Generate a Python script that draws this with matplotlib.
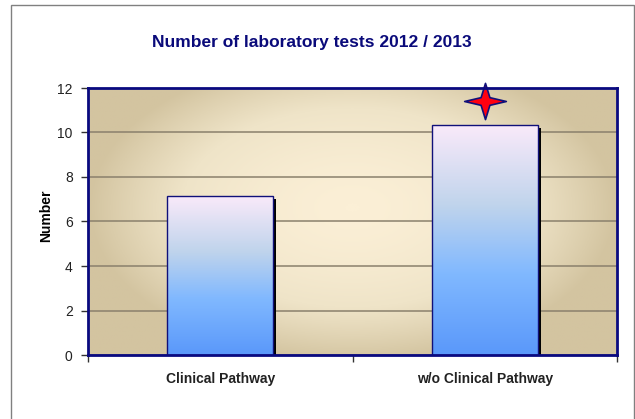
import matplotlib
matplotlib.use("Agg")
import matplotlib.pyplot as plt
import numpy as np
from matplotlib.path import Path
from matplotlib.colors import LinearSegmentedColormap
from matplotlib.patches import Rectangle
from matplotlib.transforms import ScaledTranslation

categories = ["Clinical Pathway", "w/o Clinical Pathway"]
values = [7.15, 10.35]
star_category = 1
star_value = 11.4
yticks = [0, 2, 4, 6, 8, 10, 12]

plt.rcParams['font.family'] = ['Liberation Sans', 'DejaVu Sans']

fig = plt.figure(figsize=(6.35, 4.19), dpi=100)
fig.patch.set_facecolor("white")

# outer frame
fig.add_artist(Rectangle((11 / 635, -0.05), 623 / 635, 1 - 5 / 419 + 0.05,
                         transform=fig.transFigure, fill=False,
                         edgecolor="#808080", linewidth=1))

ax = fig.add_axes([88 / 635, 64 / 419, 529 / 635, 267 / 419])
ax.set_xlim(-0.5, 1.5)
ax.set_ylim(0, 12)

# tan radial background
gx, gy = np.meshgrid(np.linspace(-1, 1, 300), np.linspace(-1, 1, 200))
r = np.clip(np.sqrt((gx / 1.0) ** 2 + ((gy - 0.1) / 1.15) ** 2), 0, 1) ** 1.6
bg_cmap = LinearSegmentedColormap.from_list("bg", ["#fbefd6", "#efe4c8", "#d3c4a0"])
ax.imshow(r, cmap=bg_cmap, extent=(-0.5, 1.5, 0, 12), aspect="auto",
          origin="lower", zorder=0, vmin=0, vmax=1)

ax.yaxis.grid(True, color="#8a806c", linewidth=1.1, zorder=1)
ax.set_axisbelow(True)

bar_cmap = LinearSegmentedColormap.from_list(
    "bar", [(0.0, "#5a98fa"), (0.35, "#80b8ff"), (0.65, "#c0d4ec"), (1.0, "#faeafa")])

bars = ax.bar(range(len(categories)), values, width=0.4, facecolor="none",
              edgecolor="#10107a", linewidth=1.0, zorder=4)
for b in bars:
    x0, w, h = b.get_x(), b.get_width(), b.get_height()
    shadow = Rectangle((x0, 0), w, h, facecolor="black", edgecolor="none", zorder=2,
                       transform=ax.transData + ScaledTranslation(
                           3 / 100, -3 / 100, fig.dpi_scale_trans))
    ax.add_patch(shadow)
    grad = np.linspace(0, 1, 256).reshape(-1, 1)
    im = ax.imshow(grad, cmap=bar_cmap, extent=(x0, x0 + w, 0, h), aspect="auto",
                   origin="lower", zorder=3)
    im.set_clip_path(b)

# four pointed star
t = np.linspace(0, 2 * np.pi, 9)[:-1] + np.pi / 2
rad = np.array([1.0, 0.3] * 4)
verts = np.column_stack([rad * np.cos(t) * 1.15, rad * np.sin(t)])
verts = np.vstack([verts, verts[:1]])
star = Path(verts, [Path.MOVETO] + [Path.LINETO] * 7 + [Path.CLOSEPOLY])
ax.plot([star_category], [star_value], marker=star, markersize=30,
        markerfacecolor="#ff0010", markeredgecolor="#10107a", markeredgewidth=1.2,
        linestyle="none", zorder=6, clip_on=False)

ax.set_yticks(yticks)
ax.set_yticklabels([str(v) for v in yticks], fontsize=10, color="#222222")
ax.set_xticks([-0.5, 0.5, 1.5])
ax.set_xticklabels([])
ax.set_xticks(range(len(categories)), minor=True)
ax.set_xticklabels(categories, minor=True, fontsize=10, fontweight="bold", color="#222222")
ax.tick_params(axis="x", which="minor", length=0, pad=12)
ax.tick_params(axis="both", which="major", length=5, width=1, color="#333333")
ax.tick_params(axis="y", pad=6)

for s in ax.spines.values():
    s.set_color("#0a0a80")
    s.set_linewidth(2)
    s.set_zorder(7)

ax.set_ylabel("Number", fontsize=10, fontweight="bold")
ax.yaxis.set_label_coords(-0.066, 0.52)
fig.text(312 / 635, 1 - 42 / 419, "Number of laboratory tests 2012 / 2013",
         ha="center", va="center", fontsize=12.5, fontweight="bold", color="#0a0a7a")

fig.savefig("out.png", dpi=100)
